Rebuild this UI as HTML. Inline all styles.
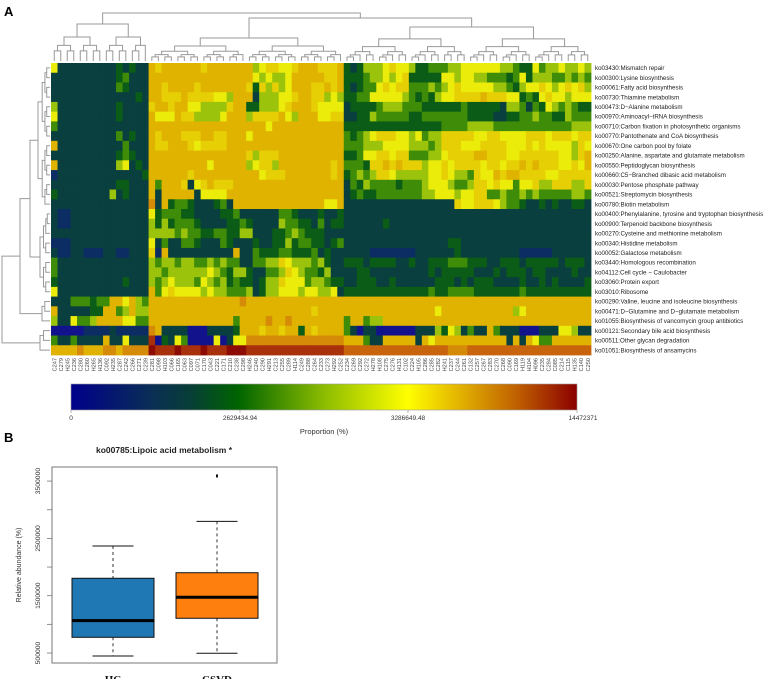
<!DOCTYPE html>
<html><head><meta charset="utf-8">
<style>
html,body{margin:0;padding:0;background:#fff;}
svg{display:block;font-family:"Liberation Sans",sans-serif;}
</style></head>
<body>
<svg id="fig" width="767" height="679" viewBox="0 0 767 679" xmlns="http://www.w3.org/2000/svg">
  <text x="4" y="16" font-size="13" font-weight="bold">A</text>
  <text x="4" y="442" font-size="13" font-weight="bold">B</text>
  <g id="coldendro" stroke="#999" stroke-width="1" fill="none"></g>
  <g id="rowdendro" stroke="#999" stroke-width="1" fill="none"></g>
  <g id="heat"></g>
  <g id="rowlabels" font-size="6.2" fill="#222"></g>
  <g id="collabels" font-size="5.6" fill="#444"></g>
  <defs>
    <linearGradient id="cbg" x1="0" x2="1" y1="0" y2="0">
      <stop offset="0" stop-color="#00008b"/>
      <stop offset="0.16" stop-color="#0a2e55"/>
      <stop offset="0.24" stop-color="#073f35"/>
      <stop offset="0.33" stop-color="#006400"/>
      <stop offset="0.5" stop-color="#8cbc00"/>
      <stop offset="0.665" stop-color="#ffff00"/>
      <stop offset="0.75" stop-color="#e8c000"/>
      <stop offset="0.88" stop-color="#c06000"/>
      <stop offset="1" stop-color="#8b0000"/>
    </linearGradient>
  </defs>
  <g>
    <rect x="71" y="384" width="506" height="26" fill="url(#cbg)" stroke="#999" stroke-width="0.6"/>
    <g id="cbticks" font-size="6.5" fill="#333" text-anchor="middle"></g>
    <text x="324" y="434" font-size="7.5" fill="#333" text-anchor="middle">Proportion (%)</text>
  </g>
  <g id="box">
    <text x="164" y="453" font-size="8.5" font-weight="bold" text-anchor="middle" fill="#222">ko00785:Lipoic acid metabolism *</text>
    <rect x="52" y="467" width="225" height="196" fill="none" stroke="#777" stroke-width="1"/>
    <text transform="translate(21,565) rotate(-90)" font-size="7" text-anchor="middle" fill="#333">Relative abundance (%)</text>
  </g>
</svg>
<script>
var rowLabels=["ko03430:Mismatch repair","ko00300:Lysine biosynthesis","ko00061:Fatty acid biosynthesis","ko00730:Thiamine metabolism","ko00473:D−Alanine metabolism","ko00970:Aminoacyl−tRNA biosynthesis","ko00710:Carbon fixation in photosynthetic organisms","ko00770:Pantothenate and CoA biosynthesis","ko00670:One carbon pool by folate","ko00250:Alanine, aspartate and glutamate metabolism","ko00550:Peptidoglycan biosynthesis","ko00660:C5−Branched dibasic acid metabolism","ko00030:Pentose phosphate pathway","ko00521:Streptomycin biosynthesis","ko00780:Biotin metabolism","ko00400:Phenylalanine, tyrosine and tryptophan biosynthesis","ko00900:Terpenoid backbone biosynthesis","ko00270:Cysteine and methionine metabolism","ko00340:Histidine metabolism","ko00052:Galactose metabolism","ko03440:Homologous recombination","ko04112:Cell cycle − Caulobacter","ko03060:Protein export","ko03010:Ribosome","ko00290:Valine, leucine and isoleucine biosynthesis","ko00471:D−Glutamine and D−glutamate metabolism","ko01055:Biosynthesis of vancomycin group antibiotics","ko00121:Secondary bile acid biosynthesis","ko00511:Other glycan degradation","ko01051:Biosynthesis of ansamycins"];
var colLabels=["C247","C279","H245","C236","C280","C260","H265","H136","C092","H235","C287","C242","C266","C271","C239","C281","C098","H103","C066","C165","C063","C097","C071","C170","C043","C221","C171","C210","C238","C298","H246","C240","C290","H291","C213","C255","C289","H114","C249","C288","C264","C233","C273","H292","C252","C234","C269","C292","C272","H278","H108","C275","C276","H131","C102","C224","H105","C286","C285","C282","H241","C237","C244","C261","C132","C257","C267","C283","C270","C268","C090","C169","H119","H104","H096","C235","C284","C085","C214","C115","H135","C140","C250"];
var levelA=["62222 22222 32322","22222 22222 34222","22222 22222 43222","22222 22222 22232","52222 22222 32222","62222 22222 32222","42222 22222 22222","22222 22222 42322","82222 22222 24222","22222 22222 34322","82222 22222 56232","12222 22222 22223","22222 22222 33222","32222 22225 23222","22222 22222 22222","21122 22222 22222","21122 22222 22222","22222 22222 22222","11122 22222 22222","21122 11122 11222","42222 22222 22222","42222 22222 22222","32222 22222 23222","62222 22222 22222","22244 43448 86854","82222 23388 45855","52264 45888 86644","00000 11112 11111","42242 22282 26222","88889 88899 89999"];
var levelB=["87888 88878 88888 85677 66788 87778","88888 88888 88888 86565 56888 88778","88788 88788 88888 73757 56888 77878","88777 87777 66588 82555 66788 77565","78878 86655 55788 33555 67888 76666","86668 77555 56888 57777 86588 86677","88888 88888 88888 88868 88888 88888","87888 77788 77888 68888 88888 88888","87788 87677 77888 88888 88888 88888","88888 88888 88888 75777 88888 88888","88888 88886 88888 56775 88888 88878","88888 87888 88888 88677 78888 88878","84888 72678 77788 88888 88888 88888","82888 88266 66888 88888 88888 88888","92834 43222 34288 88888 88888 88668","63444 33222 23342 22222 44322 23223","53534 44322 22334 32222 54433 24233","55554 54433 44335 52223 34543 33222","62422 44322 24322 23223 35344 33234","71822 22222 22282 24333 44333 42322","54554 55445 45442 24455 76555 45322","55455 55556 54355 32244 57654 43522","54565 55465 45343 32355 76664 55433","84676 66656 55444 52355 66656 65562","88888 88888 88889 88888 88888 88888","88888 88888 88888 88888 88888 78888","88888 88888 88848 88898 89888 88888","98222 20002 22238 88788 78838 78888","b0326 40000 60266 99999 99999 99999","cbbbc bbbcb bbccc bbbbb bbbbb bbbbb"];
var levelC=["32355 56766 53344 45566 66665 54336 45565 565","33345 56567 33333 66566 55444 34635 55445 454","32344 67677 44454 56766 66655 43566 76567 675","33446 66665 43435 66777 78777 66343 67665 666","23333 45554 44333 33343 33332 55424 36545 433","22335 44444 33444 44443 33322 33445 44335 444","33333 33333 33333 44445 55544 44444 44444 555","43456 77766 56455 77777 66776 66677 76777 677","44455 56666 55545 77766 67777 66676 76666 576","33466 77677 44455 67777 88777 66777 77766 578","44437 78787 77566 76777 76776 77878 77766 768","34545 77655 55566 76554 76687 88777 76677 777","24354 44434 44566 65445 77676 64667 55777 557","23433 44444 44556 66566 77445 44545 44444 554","22222 22222 22222 22766 77765 44322 32322 332","22222 22222 22222 22222 22222 22222 22222 222","22222 23222 22222 22222 22222 22222 22222 222","22222 22222 22222 22222 22222 22222 22222 222","22222 22222 22222 23322 22222 22222 22222 222","22221 11111 12222 22322 22222 22111 11222 222","33323 33322 32233 34443 33223 33233 33323 332","22332 22222 22232 33333 22232 33323 32222 322","22333 22322 22223 33232 33322 22322 32322 223","33333 33333 33343 34444 33333 33433 33333 333","88888 88888 88888 88888 88888 88888 88888 888","88888 88888 88886 88888 88888 85688 88888 888","48845 58888 88888 88888 88888 88888 88888 888","42022 00000 02225 36524 22842 22000 22266 522","88842 28888 82868 88888 88888 28286 44888 888","aaaaa aaaaa aaaaa a999a aaaaa aaaaa aaaaa aaa"];
var cbTickValues=["0","2629434.94","3286649.48","14472371"];
var groups=["HC","CSVD"];
var boxMin=[448000,495000];
var boxQ1=[774000,1106000];
var boxMedian=[1064000,1472000];
var boxQ3=[1804000,1901000];
var boxMax=[2367000,2798000];
var boxOutliers=[[],[3590000]];
var yTicks=[500000,1000000,1500000,2000000,2500000,3000000,3500000];
var yTickLabels=["500000","","1500000","","2500000","","3500000"];

var NS="http://www.w3.org/2000/svg";
function mk(tag,attrs,parent){var e=document.createElementNS(NS,tag);for(var k in attrs)e.setAttribute(k,attrs[k]);parent.appendChild(e);return e;}
var pal={"0":"#12128c","1":"#0c2d64","2":"#0a3f40","3":"#0b5c16","4":"#3f8c08","5":"#9cc30c","6":"#ebec0a","7":"#e6cf04","8":"#e0b300","9":"#d58a08","a":"#c8640c","b":"#a8300a","c":"#8c0c04"};
var HX0=51,HX1=591,HY0=63,HY1=355;
var nC=colLabels.length,nR=rowLabels.length;
var cw=(HX1-HX0)/nC,rh=(HY1-HY0)/nR;
function colX(j){return HX0+j*cw;}
function rowY(i){return HY0+i*rh;}
var heat=document.getElementById('heat');
for(var i=0;i<nR;i++){
  var s=(levelA[i]+levelB[i]+levelC[i]).replace(/ /g,'');
  for(var j=0;j<nC;j++){
    var ch=s.charAt(j)||'2';
    var r=mk('rect',{x:colX(j).toFixed(2),y:rowY(i).toFixed(2),width:(cw+0.4).toFixed(2),height:(rh+0.4).toFixed(2),fill:pal[ch]},heat);
    
    
  }
}
var rl=document.getElementById('rowlabels');
for(var i=0;i<nR;i++){
  var t=mk('text',{x:595,y:(rowY(i)+rh/2+2.2).toFixed(2)},rl);t.textContent=rowLabels[i];
  
  
}
var cl=document.getElementById('collabels');
for(var j=0;j<nC;j++){
  var cx=colX(j)+cw/2+2;
  var t=mk('text',{transform:'translate('+cx.toFixed(2)+',358) rotate(-90)','text-anchor':'end'},cl);t.textContent=colLabels[j];
  
  
}
function tree(lo,hi,h0,h1){
  if(lo===hi) return {lo:lo,hi:hi,c:null,h:h1};
  var mid=Math.floor((lo+hi)/2);
  var hh=h0+(h1-h0)*0.35;
  return {lo:lo,hi:hi,c:[tree(lo,mid,hh,h1),tree(mid+1,hi,hh,h1)],h:h0};
}
function drawCol(node,g){
  if(!node.c){return colX(node.lo)+cw/2;}
  var xa=drawCol(node.c[0],g),xb=drawCol(node.c[1],g);
  mk('path',{d:'M'+xa+','+node.c[0].h+'V'+node.h+'H'+xb+'V'+node.c[1].h},g);
  return (xa+xb)/2;
}
var cg=document.getElementById('coldendro');
var colTree={h:13,c:[tree(0,14,24,61),{h:18,c:[tree(15,44,38,61),tree(45,82,27,61)]}]};
drawCol(colTree,cg);
function drawRow(node,g){
  if(!node.c){return rowY(node.lo)+rh/2;}
  var ya=drawRow(node.c[0],g),yb=drawRow(node.c[1],g);
  mk('path',{d:'M'+node.c[0].h+','+ya+'H'+node.h+'V'+yb+'H'+node.c[1].h},g);
  return (ya+yb)/2;
}
var rg=document.getElementById('rowdendro');
var rowTree={h:2,c:[{h:20,c:[{h:30,c:[tree(0,14,38,50),tree(15,23,40,50)]},tree(24,26,42,50)]},tree(27,29,40,50)]};
drawRow(rowTree,rg);
var cbPos=[71,240,408,577];
var cbt=document.getElementById('cbticks');
for(var k=0;k<cbTickValues.length;k++){
  mk('line',{x1:cbPos[k],x2:cbPos[k],y1:410,y2:413,stroke:'#888','stroke-width':0.6},cbt);
  var t=mk('text',{x:cbPos[k]+(k===3?6:0),y:420},cbt);t.textContent=cbTickValues[k];
  
  
}
var bg=document.getElementById('box');
function yS(v){return 653-(v-500000)/1e6*57.3;}
var xCenters=[113,217],bw=82,capw=41;
var fills=["#1f77b4","#ff7f0e"];
for(var k=0;k<yTicks.length;k++){
  var y=yS(yTicks[k]);
  mk('line',{x1:47,x2:52,y1:y,y2:y,stroke:'#777','stroke-width':0.8},bg);
  if(yTickLabels[k]){
    var t=mk('text',{transform:'translate(40,'+y+') rotate(-90)','text-anchor':'middle','font-size':6.8,fill:'#333'},bg);t.textContent=yTickLabels[k];
    
    
  }
}
for(var g=0;g<groups.length;g++){
  var cx=xCenters[g];
  var w1=mk('line',{x1:cx,x2:cx,y1:yS(boxMax[g]),y2:yS(boxQ3[g]),stroke:'#555','stroke-width':1.2,'stroke-dasharray':'3,3'},bg);
  
  
  var w2=mk('line',{x1:cx,x2:cx,y1:yS(boxQ1[g]),y2:yS(boxMin[g]),stroke:'#555','stroke-width':1.2,'stroke-dasharray':'3,3'},bg);
  
  
  var c1=mk('line',{x1:cx-capw/2,x2:cx+capw/2,y1:yS(boxMax[g]),y2:yS(boxMax[g]),stroke:'#111','stroke-width':1},bg);
  
  
  var c2=mk('line',{x1:cx-capw/2,x2:cx+capw/2,y1:yS(boxMin[g]),y2:yS(boxMin[g]),stroke:'#111','stroke-width':1},bg);
  
  
  var b=mk('rect',{x:cx-bw/2,y:yS(boxQ3[g]),width:bw,height:yS(boxQ1[g])-yS(boxQ3[g]),fill:fills[g],stroke:'#111','stroke-width':1},bg);
  
  
  var m=mk('line',{x1:cx-bw/2,x2:cx+bw/2,y1:yS(boxMedian[g]),y2:yS(boxMedian[g]),stroke:'#000','stroke-width':3},bg);
  
  
  for(var o=0;o<boxOutliers[g].length;o++){
    var p=mk('rect',{x:cx-1,y:yS(boxOutliers[g][o])-1.5,width:2,height:3,fill:'#111'},bg);
    
    
  }
  var t=mk('text',{x:cx,y:683,'text-anchor':'middle','font-size':11,'font-weight':'bold','font-family':'"Liberation Serif",serif',fill:'#111'},bg);t.textContent=groups[g];
  
  
}
</script>
</body></html>
